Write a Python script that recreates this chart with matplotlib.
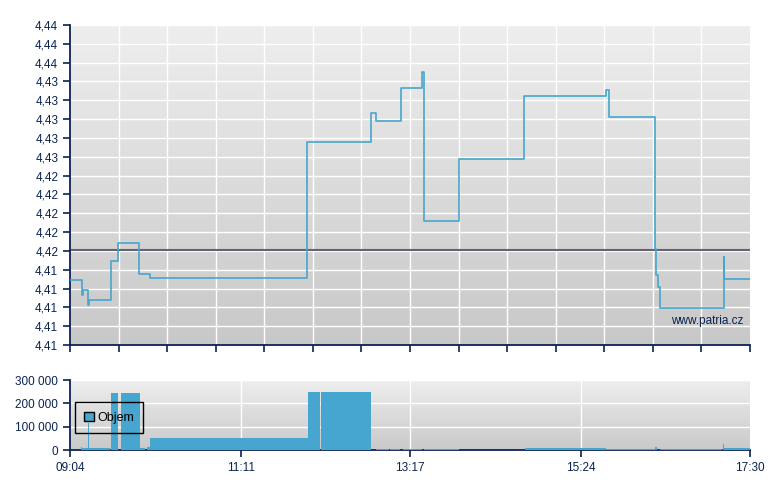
import matplotlib
matplotlib.use('Agg')
import matplotlib.pyplot as plt
from matplotlib.patches import Patch
from matplotlib.ticker import FuncFormatter
import numpy as np

plt.rcParams['font.family'] = ['Liberation Sans', 'DejaVu Sans']

# cas v minutach od pulnoci, cena (step 'post')
price_t = [544, 552.9, 553.4, 557.4, 557.9, 574.5, 579.7, 595.7, 603.5, 720.6,
           767.7, 772.0, 790.3, 806.3, 807.1, 833.1, 882.2, 942.8, 945.1,
           979.3, 980.4, 981.5, 983.4, 1030.3, 1030.7, 1050]
price_v = [4.4129, 4.4113, 4.4118, 4.4103, 4.4108, 4.4149, 4.4168, 4.4135, 4.4131, 4.4276,
           4.4306, 4.4298, 4.4333, 4.4350, 4.4192, 4.4258, 4.4325, 4.4331, 4.4302,
           4.4162, 4.4134, 4.4122, 4.4099, 4.4153, 4.4130, 4.4130]
prev_close = 4.4162

# objem: zacatek, konec, hodnota
vol_start = [552.2, 552.9, 557.2, 574.5, 582.0, 596.1, 601.3, 603.5, 721.1, 730.8,
             771.7, 782.1, 791.8, 807.4, 882.6, 942.8, 979.3, 983.0, 1030.0, 1030.6]
vol_end = [552.9, 573.8, 558.0, 579.9, 595.9, 599.8, 603.5, 721.1, 730.0, 768.0,
           781.4, 789.6, 805.9, 833.5, 942.8, 979.3, 980.8, 1029.4, 1030.6, 1050]
vol_val = [11600, 8600, 115700, 244300, 244300, 8600, 12000, 51400, 248600, 248600,
           4300, 4300, 4300, 4300, 9900, 4300, 12900, 4300, 25700, 8600]

t0, t1 = 544, 1050
y0, y1 = 4.406, 4.440
label_times = [544, 671, 797, 924, 1050]

navy = '#0b2352'
blue = '#46a6cf'


def hhmm(x, pos=None):
    return '%02d:%02d' % (int(round(x)) // 60, int(round(x)) % 60)


def gradient(ax, top, bottom):
    g = np.linspace(0, 1, 256).reshape(-1, 1)
    c0 = np.array(matplotlib.colors.to_rgb(top))
    c1 = np.array(matplotlib.colors.to_rgb(bottom))
    img = c0 + (c1 - c0) * g[:, :, None]
    ax.imshow(img, extent=[0, 1, 0, 1], transform=ax.transAxes, aspect='auto',
              zorder=0, origin='upper')


def style(ax):
    for s in ['top', 'right']:
        ax.spines[s].set_visible(False)
    for s in ['left', 'bottom']:
        ax.spines[s].set_color(navy)
        ax.spines[s].set_linewidth(1.3)
    ax.tick_params(colors=navy, labelcolor=navy, labelsize=8.5, length=5, width=1.2)


fig = plt.figure(figsize=(7.8, 4.9), dpi=100)

# --- cena ---
ax = fig.add_axes([70 / 780, 145 / 490, 680 / 780, 320 / 490])
gradient(ax, '#eeeeee', '#c8c8c8')
style(ax)
yt = np.linspace(y0, y1, 18)
ax.set_yticks(yt)
ax.yaxis.set_major_formatter(FuncFormatter(lambda v, p: ('%.2f' % v).replace('.', ',')))
xt = np.linspace(t0, t1, 15)
ax.set_xticks(xt)
ax.set_xticklabels([])
for v in yt[1:]:
    ax.axhline(v, color='white', lw=1, zorder=1)
for v in xt[1:-1]:
    ax.axvline(v, color='white', lw=1, zorder=1)
ax.axhline(prev_close - 0.0001, color='#5e6878', lw=0.8, zorder=2)
ax.axhline(prev_close, color='#b84040', lw=0.8, zorder=2)
ax.step(price_t, price_v, where='post', color=blue, lw=1.2, zorder=3)
ax.text(0.99, 0.055, 'www.patria.cz', transform=ax.transAxes, ha='right', va='bottom',
        color=navy, fontsize=8.5)
ax.set_xlim(t0, t1)
ax.set_ylim(y0, y1)

# --- objem ---
av = fig.add_axes([70 / 780, 40 / 490, 680 / 780, 70 / 490])
gradient(av, '#eeeeee', '#c9c9c9')
style(av)
av.set_yticks([0, 100000, 200000, 300000])
av.yaxis.set_major_formatter(FuncFormatter(lambda v, p: '{:,}'.format(int(v)).replace(',', ' ')))
av.set_xticks(label_times)
av.xaxis.set_major_formatter(FuncFormatter(hhmm))
for v in [100000, 200000, 300000]:
    av.axhline(v, color='white', lw=1, zorder=1)
for v in label_times[1:-1]:
    av.axvline(v, color='white', lw=1, zorder=1)
av.bar(vol_start, vol_val, width=np.array(vol_end) - np.array(vol_start), align='edge',
       color=blue, lw=0, zorder=3)
leg = av.legend(handles=[Patch(facecolor=blue, edgecolor='black', lw=1, label='Objem')],
                loc='lower left', bbox_to_anchor=(0.007, 0.24), fontsize=9,
                fancybox=False, edgecolor='black', handlelength=0.75,
                handleheight=0.75, handletextpad=0.3, borderpad=0.75, borderaxespad=0)
frame = leg.get_frame()
frame.set_facecolor('none')
frame.set_alpha(None)
frame.set_edgecolor('black')
frame.set_linewidth(1)
leg.set_zorder(5)
av.set_xlim(t0, t1)
av.set_ylim(0, 300000)

fig.savefig('out.png', dpi=100)
